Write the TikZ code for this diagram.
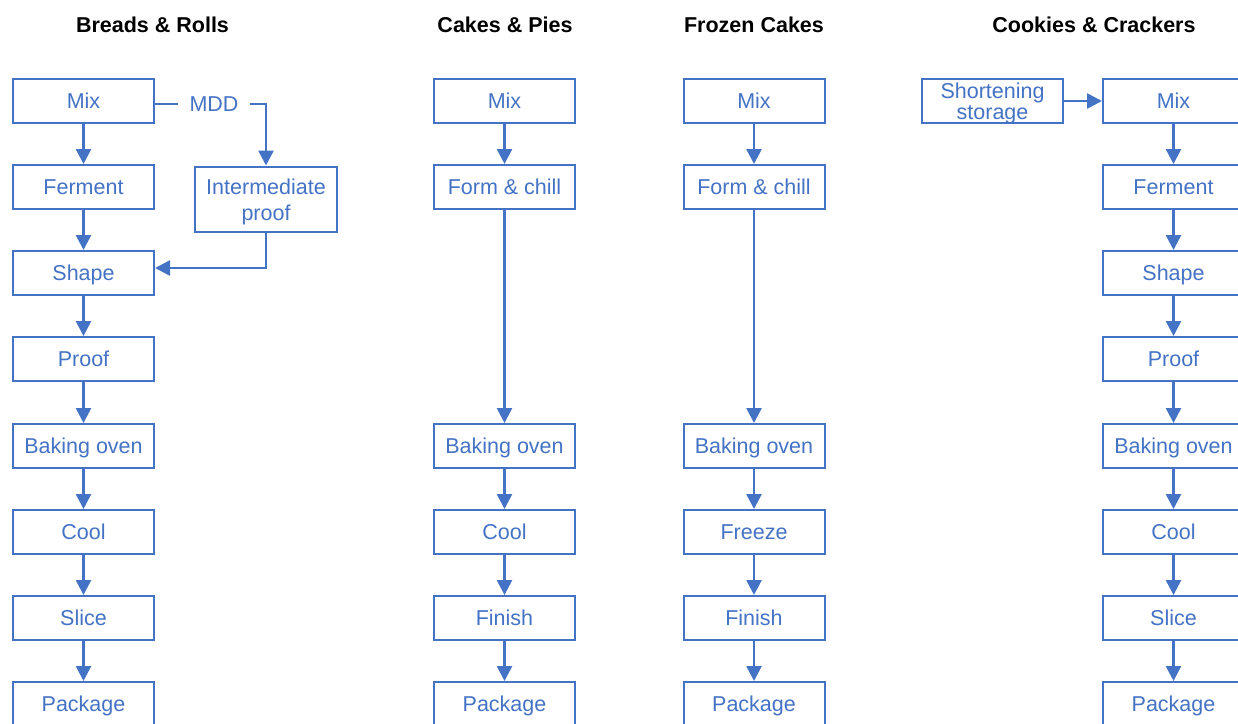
\documentclass[tikz,border=0pt]{standalone}
\usepackage{fontspec}
\setmainfont{Liberation Sans}
\usetikzlibrary{arrows.meta}
\definecolor{bl}{HTML}{4472C4}
\tikzset{
  box/.style={draw=bl, line width=2pt, minimum width=141pt, minimum height=44pt, inner sep=0pt, text=bl, font=\fontsize{21.5}{21}\selectfont, align=center},
  one/.style={text height=18pt, text depth=3pt},
  arr/.style={draw=bl, line width=2.6pt, -{Triangle[length=15pt,width=15pt]}},
  ln/.style={draw=bl, line width=2.6pt},
  ttl/.style={font=\bfseries\fontsize{21.5}{22}\selectfont, text=black}
}
\begin{document}
\begin{tikzpicture}[x=1pt,y=-1pt]
\useasboundingbox (0,0) rectangle (1238,723);
\clip (0,0) rectangle (1238,723);
% titles
\node[ttl] (t1) at (152.5,24.5) {Breads \& Rolls};
\node[ttl] (t2) at (505,24.5) {Cakes \& Pies};
\node[ttl] (t3) at (754,24.5) {Frozen Cakes};
\node[ttl] (t4) at (1094,24.5) {Cookies \& Crackers};
% column 1
\node[box,one] (a1) at (83.5,101) {Mix};
\node[box,one] (a2) at (83.5,187) {Ferment};
\node[box,one] (a3) at (83.5,273) {Shape};
\node[box,one] (a4) at (83.5,359) {Proof};
\node[box,one] (a5) at (83.5,446) {Baking oven};
\node[box,one] (a6) at (83.5,532) {Cool};
\node[box,one] (a7) at (83.5,618) {Slice};
\node[box,one] (a8) at (83.5,704) {Package};
\node[text=bl, font=\fontsize{21.5}{22}\selectfont, inner sep=0pt, minimum width=72pt, text height=18pt, text depth=3pt] (mdd) at (214,104) {MDD};
\node[box, minimum width=142pt, minimum height=65pt, text height=47.5pt, text depth=4.5pt] (ip) at (266,199) {Intermediate\\[5pt]proof};
\foreach \i/\j in {1/2,2/3,3/4,4/5,5/6,6/7,7/8} \draw[arr] (a\i.south) -- (a\j.north);
\draw[ln] (a1.east |- mdd) -- (mdd.west);
\draw[arr] (mdd.east) -| (ip.north);
\draw[arr] (ip.south) |- ([yshift=5pt]a3.east);
% column 2
\node[box,one] (b1) at (504.5,101) {Mix};
\node[box,one] (b2) at (504.5,187) {Form \& chill};
\node[box,one] (b5) at (504.5,446) {Baking oven};
\node[box,one] (b6) at (504.5,532) {Cool};
\node[box,one] (b7) at (504.5,618) {Finish};
\node[box,one] (b8) at (504.5,704) {Package};
\foreach \i/\j in {1/2,2/5,5/6,6/7,7/8} \draw[arr] (b\i.south) -- (b\j.north);
% column 3
\node[box,one] (c1) at (754,101) {Mix};
\node[box,one] (c2) at (754,187) {Form \& chill};
\node[box,one] (c5) at (754,446) {Baking oven};
\node[box,one] (c6) at (754,532) {Freeze};
\node[box,one] (c7) at (754,618) {Finish};
\node[box,one] (c8) at (754,704) {Package};
\foreach \i/\j in {1/2,2/5,5/6,6/7,7/8} \draw[arr] (c\i.south) -- (c\j.north);
% column 4
\node[box, text height=40.5pt, text depth=3.5pt] (ss) at (992.5,101) {Shortening\\storage};
\node[box,one] (d1) at (1173.5,101) {Mix};
\node[box,one] (d2) at (1173.5,187) {Ferment};
\node[box,one] (d3) at (1173.5,273) {Shape};
\node[box,one] (d4) at (1173.5,359) {Proof};
\node[box,one] (d5) at (1173.5,446) {Baking oven};
\node[box,one] (d6) at (1173.5,532) {Cool};
\node[box,one] (d7) at (1173.5,618) {Slice};
\node[box,one] (d8) at (1173.5,704) {Package};
\foreach \i/\j in {1/2,2/3,3/4,4/5,5/6,6/7,7/8} \draw[arr] (d\i.south) -- (d\j.north);
\draw[arr] (ss.east) -- (d1.west);
\end{tikzpicture}
\end{document}
